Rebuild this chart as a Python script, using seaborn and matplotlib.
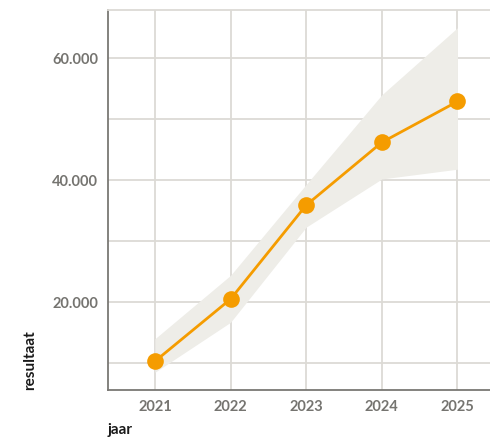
import pandas as pd
import numpy as np
import matplotlib.pyplot as plt
import matplotlib.ticker as mticker
import seaborn as sns

# data
jaar = [2021, 2022, 2023, 2024, 2025]
resultaat = [10300, 20500, 35900, 46200, 52900]
ondergrens = [8500, 16700, 32300, 40200, 41800]
bovengrens = [14000, 24400, 39300, 54000, 65000]

df = pd.DataFrame({'jaar': jaar, 'resultaat': resultaat})

sns.set_theme(style='white')
plt.rcParams['font.family'] = ['Lato', 'DejaVu Sans']

fig = plt.figure(figsize=(4.9, 4.38), dpi=100)
ax = fig.add_axes([108 / 490, 48 / 438, 382 / 490, 380 / 438])

# onzekerheidsband
ax.fill_between(jaar, ondergrens, bovengrens, color='#eeede8', linewidth=0, zorder=1)

sns.lineplot(data=df, x='jaar', y='resultaat', ax=ax, color='#f59c00',
             linewidth=2, marker='o', markersize=12, markeredgewidth=0, zorder=3)

ax.set_xlim(2020.38, 2025.43)
ax.set_ylim(5600, 67900)
ax.set_xticks(jaar)
ax.set_yticks([20000, 40000, 60000])
ax.set_yticks([10000, 30000, 50000], minor=True)
ax.yaxis.set_major_formatter(mticker.FuncFormatter(lambda v, p: f'{int(v):,}'.replace(',', '.')))

grid_kw = dict(color='#dcdad5', linewidth=1.3)
ax.grid(True, which='major', axis='both', zorder=0, **grid_kw)
ax.grid(True, which='minor', axis='y', zorder=0, **grid_kw)
ax.set_axisbelow(True)

ax.tick_params(axis='both', which='both', length=0, pad=7, labelsize=10.5, labelcolor='#757470')
for lbl in ax.get_xticklabels() + ax.get_yticklabels():
    lbl.set_fontweight('bold')

for side in ['left', 'bottom']:
    ax.spines[side].set_color('#7a7874')
    ax.spines[side].set_linewidth(1.3)
ax.spines['top'].set_color('#dcdad5')
ax.spines['top'].set_linewidth(1.3)
ax.spines['right'].set_visible(False)

ax.set_xlabel('jaar', loc='left', fontsize=11, fontweight='bold', color='#1a1a1a')
ax.set_ylabel('resultaat', loc='bottom', fontsize=11, fontweight='bold', color='#1a1a1a')
ax.xaxis.set_label_coords(0, -0.086)
ax.yaxis.set_label_coords(-0.186, 0)

plt.savefig('out.png', dpi=100)
